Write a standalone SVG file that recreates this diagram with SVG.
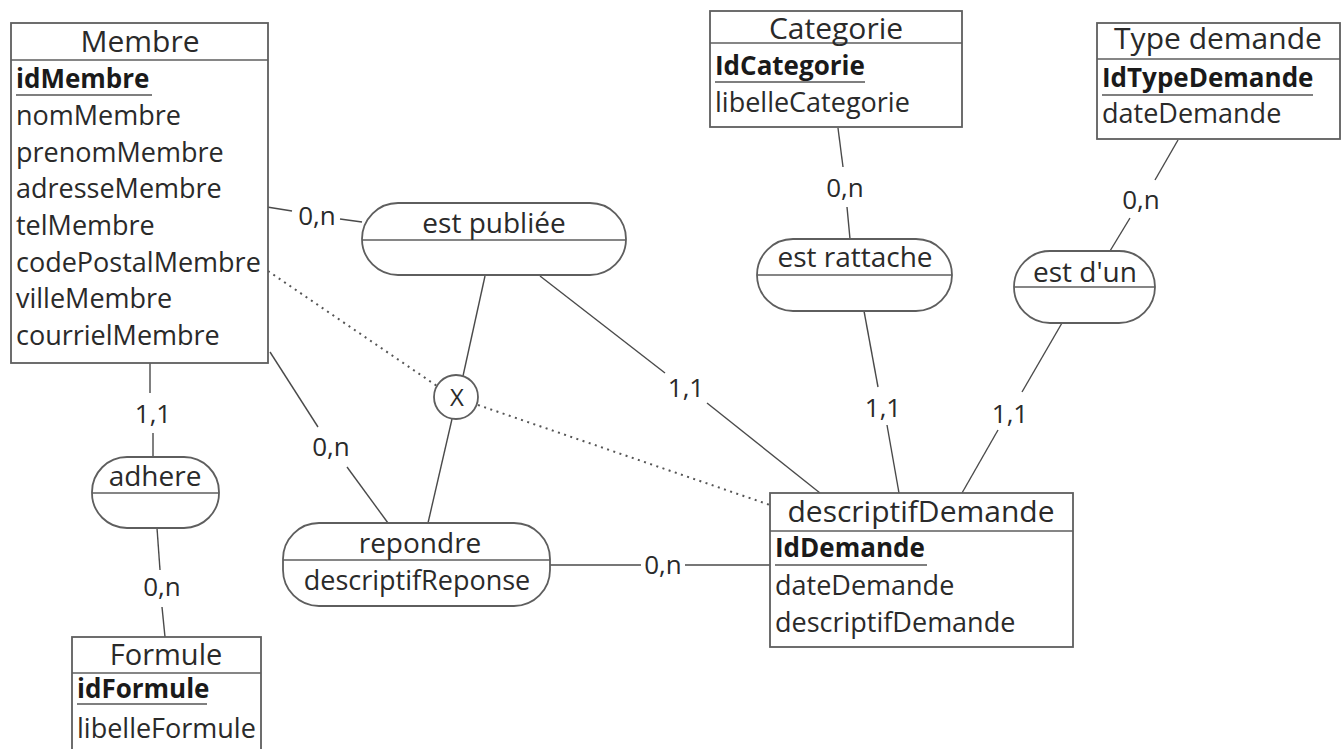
<svg xmlns="http://www.w3.org/2000/svg" width="1344" height="749" viewBox="0 0 1344 749">
<style>
.box{fill:#fff;stroke:#5e5e5e;stroke-width:1.8}
.sep{stroke:#5e5e5e;stroke-width:1.6}
.ul{stroke:#555;stroke-width:1.5}
.hdr{font-family:"Open Sans","Noto Sans",sans-serif;font-size:30px;fill:#2a2a2a;text-anchor:middle}
.att{font-family:"Open Sans","Noto Sans",sans-serif;font-size:27px;fill:#2a2a2a}
.key{font-family:"Open Sans","Noto Sans",sans-serif;font-size:26px;fill:#1a1a1a;font-weight:bold}
.rel{font-family:"Open Sans","Noto Sans",sans-serif;font-size:28px;fill:#2a2a2a;text-anchor:middle}
.lbl{font-family:"Open Sans","Noto Sans",sans-serif;font-size:26px;fill:#2a2a2a;text-anchor:middle}
.ln{stroke:#4a4a4a;stroke-width:1.4;fill:none}
.dot{stroke:#555;stroke-width:2;fill:none;stroke-dasharray:2 4.5}
</style>
<rect width="1344" height="749" fill="#fff"/>

<g id="connectors">
<line class="ln" x1="267" y1="207" x2="292" y2="211"/>
<line class="ln" x1="340" y1="219" x2="362" y2="222"/>
<text class="lbl" x="317" y="225">0,n</text>
<line class="ln" x1="485" y1="276" x2="463" y2="376"/>
<line class="ln" x1="452" y1="419" x2="428" y2="523"/>
<line class="ln" x1="270" y1="352" x2="318" y2="427"/>
<line class="ln" x1="347" y1="467" x2="388" y2="523"/>
<text class="lbl" x="331" y="456">0,n</text>
<line class="ln" x1="540" y1="276" x2="665" y2="373"/>
<line class="ln" x1="707" y1="403" x2="820" y2="493"/>
<text class="lbl" x="686" y="397">1,1</text>
<line class="ln" x1="150" y1="363" x2="150" y2="393"/>
<line class="ln" x1="153" y1="433" x2="153" y2="457"/>
<text class="lbl" x="153" y="423">1,1</text>
<line class="ln" x1="157" y1="528" x2="160" y2="570"/>
<line class="ln" x1="162" y1="607" x2="165" y2="637"/>
<text class="lbl" x="162" y="596">0,n</text>
<line class="ln" x1="550" y1="565" x2="641" y2="565"/>
<line class="ln" x1="685" y1="565" x2="770" y2="565"/>
<text class="lbl" x="663" y="574">0,n</text>
<line class="ln" x1="838" y1="128" x2="843" y2="167"/>
<line class="ln" x1="847" y1="207" x2="850" y2="239"/>
<text class="lbl" x="845" y="197">0,n</text>
<line class="ln" x1="864" y1="311" x2="878" y2="387"/>
<line class="ln" x1="887" y1="425" x2="899" y2="493"/>
<text class="lbl" x="883" y="417">1,1</text>
<line class="ln" x1="1178" y1="140" x2="1155" y2="180"/>
<line class="ln" x1="1130" y1="218" x2="1110" y2="251"/>
<text class="lbl" x="1141" y="209">0,n</text>
<line class="ln" x1="1062" y1="323" x2="1022" y2="392"/>
<line class="ln" x1="998" y1="430" x2="962" y2="493"/>
<text class="lbl" x="1010" y="423">1,1</text>
<line class="dot" x1="268" y1="271" x2="437" y2="386"/>
<line class="dot" x1="478" y1="405" x2="770" y2="505"/>
</g>

<g id="Membre">
<rect class="box" x="11" y="23" width="257" height="340"/>
<line class="sep" x1="11" y1="60" x2="268" y2="60"/>
<text class="hdr" x="140" y="52">Membre</text>
<text class="key" x="16" y="88">idMembre</text>
<line class="ul" x1="16" y1="95" x2="152" y2="95"/>
<text class="att" x="16" y="125">nomMembre</text>
<text class="att" x="16" y="162">prenomMembre</text>
<text class="att" x="16" y="198">adresseMembre</text>
<text class="att" x="16" y="235">telMembre</text>
<text class="att" x="16" y="272">codePostalMembre</text>
<text class="att" x="16" y="308">villeMembre</text>
<text class="att" x="16" y="345">courrielMembre</text>
</g>

<g id="Categorie">
<rect class="box" x="710" y="11" width="252" height="116"/>
<line class="sep" x1="710" y1="43" x2="962" y2="43"/>
<text class="hdr" x="836" y="39">Categorie</text>
<text class="key" x="715" y="75">IdCategorie</text>
<line class="ul" x1="715" y1="82" x2="865" y2="82"/>
<text class="att" x="715" y="112">libelleCategorie</text>
</g>

<g id="TypeDemande">
<rect class="box" x="1097" y="23" width="243" height="116"/>
<line class="sep" x1="1097" y1="59" x2="1340" y2="59"/>
<text class="hdr" x="1218" y="49">Type demande</text>
<text class="key" x="1102" y="87">IdTypeDemande</text>
<line class="ul" x1="1102" y1="95" x2="1313" y2="95"/>
<text class="att" x="1102" y="123">dateDemande</text>
</g>

<g id="descriptifDemande">
<rect class="box" x="770" y="493" width="303" height="154"/>
<line class="sep" x1="770" y1="531" x2="1073" y2="531"/>
<text class="hdr" x="921" y="522">descriptifDemande</text>
<text class="key" x="775" y="557">IdDemande</text>
<line class="ul" x1="775" y1="565" x2="927" y2="565"/>
<text class="att" x="775" y="595">dateDemande</text>
<text class="att" x="775" y="632">descriptifDemande</text>
</g>

<g id="Formule">
<rect class="box" x="72" y="637" width="189" height="130"/>
<line class="sep" x1="72" y1="673" x2="261" y2="673"/>
<text class="hdr" x="166" y="665" style="font-size:29px">Formule</text>
<text class="key" x="77" y="698">idFormule</text>
<line class="ul" x1="77" y1="704" x2="207" y2="704"/>
<text class="att" x="77" y="738">libelleFormule</text>
</g>

<g id="estPubliee">
<rect class="box" x="362" y="203" width="264" height="72" rx="36"/>
<line class="sep" x1="362" y1="240" x2="626" y2="240"/>
<text class="rel" x="494" y="233">est publiée</text>
</g>

<g id="estRattache">
<rect class="box" x="757" y="239" width="195" height="72" rx="36"/>
<line class="sep" x1="757" y1="275" x2="952" y2="275"/>
<text class="rel" x="855" y="267">est rattache</text>
</g>

<g id="estDun">
<rect class="box" x="1014" y="251" width="141" height="72" rx="36"/>
<line class="sep" x1="1014" y1="287" x2="1155" y2="287"/>
<text class="rel" x="1085" y="282">est d'un</text>
</g>

<g id="adhere">
<rect class="box" x="92" y="457" width="127" height="71" rx="35"/>
<line class="sep" x1="92" y1="493" x2="219" y2="493"/>
<text class="rel" x="155" y="486">adhere</text>
</g>

<g id="repondre">
<rect class="box" x="283" y="523" width="267" height="83" rx="36"/>
<line class="sep" x1="283" y1="560" x2="550" y2="560"/>
<text class="rel" x="420" y="553">repondre</text>
<text class="att" x="417" y="590" text-anchor="middle">descriptifReponse</text>
</g>

<g id="X">
<circle class="box" cx="456" cy="397" r="22"/>
<text class="lbl" x="457" y="406" style="font-size:24px">X</text>
</g>
</svg>
